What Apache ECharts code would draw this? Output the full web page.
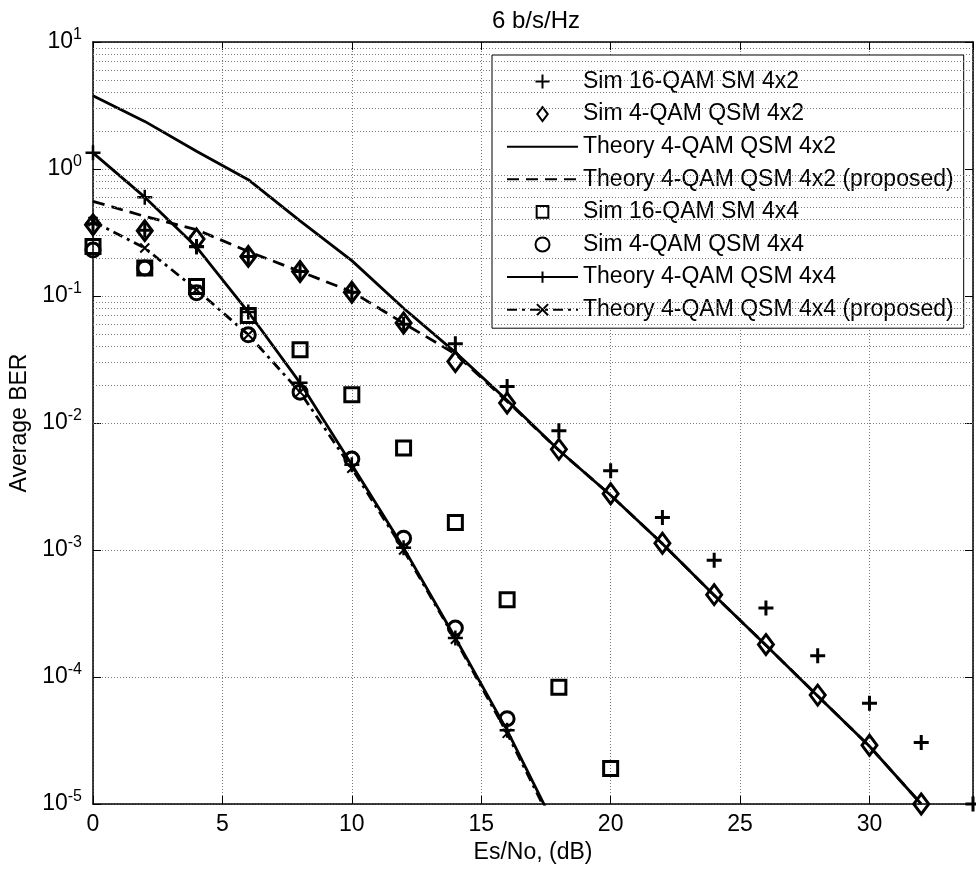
<!DOCTYPE html>
<html>
<head>
<meta charset="utf-8">
<script src="https://cdn.jsdelivr.net/npm/echarts@6/dist/echarts.min.js"></script>
<style>html,body{margin:0;padding:0;background:#fff}#c{width:976px;height:869px}</style>
</head>
<body>
<div id="c"></div>
<script>
// ---- data ----
const snrSim16SM4x2 = [0,2,4,6,8,10,12,14,16,18,20,22,24,26,28,30,32,34];
const berSim16SM4x2 = [0.37,0.33,0.245,0.205,0.156,0.107,0.060,0.042,0.0194,0.0087,0.0042,0.0018,0.00083,0.00035,0.000147,0.000062,0.0000305,0.00001];

const snr4x2 = [0,2,4,6,8,10,12,14,16,18,20,22,24,26,28,30,32];
const berSimQSM4x2 = [0.364,0.327,0.281,0.205,0.156,0.107,0.0613,0.0305,0.01436,0.0062,0.00277,0.00113,0.000445,0.00018,0.000072,0.000029,0.00001];
const berTheoryQSM4x2 = [3.78,2.37,1.38,0.824,0.39,0.19,0.08,0.036,0.0151,0.0061,0.0027,0.00112,0.00044,0.000178,0.000071,0.0000285,0.00001];
const berTheoryQSM4x2Prop = [0.556,0.424,0.333,0.224,0.156,0.108,0.061,0.035,0.0148,0.0061,0.0027,0.00112,0.00044,0.000178,0.000071,0.0000285,0.00001];

const snrSim16SM4x4 = [0,2,4,6,8,10,12,14,16,18,20];
const berSim16SM4x4 = [0.245,0.166,0.119,0.0703,0.0377,0.0167,0.00635,0.00165,0.000406,0.000083,0.000019];

const snrSimQSM4x4 = [0,2,4,6,8,10,12,14,16];
const berSimQSM4x4 = [0.23,0.166,0.106,0.0495,0.0175,0.0052,0.00124,0.000243,0.000047];

const snrTheory4x4 = [0,2,4,6,8,10,12,14,16,18];
const berTheoryQSM4x4 = [1.34,0.60,0.243,0.0748,0.0207,0.0047,0.00104,0.000203,0.000038,0.0000058];
const berTheoryQSM4x4Prop = [0.386,0.239,0.112,0.0495,0.0175,0.0044,0.00100,0.000198,0.000036,0.0000055];

const seriesNames = [
  'Sim 16-QAM SM 4x2',
  'Sim 4-QAM QSM 4x2',
  'Theory 4-QAM QSM 4x2',
  'Theory 4-QAM QSM 4x2 (proposed)',
  'Sim 16-QAM SM 4x4',
  'Sim 4-QAM QSM 4x4',
  'Theory 4-QAM QSM 4x4',
  'Theory 4-QAM QSM 4x4 (proposed)'
];
const titleText = '6 b/s/Hz';
const xName = 'Es/No, (dB)';
const yName = 'Average BER';
const minorMultipliers = [2,3,4,5,6,7,8,9];
const decades = [-5,-4,-3,-2,-1,0];

// ---- build ----
const zip = (xs, ys) => xs.map((x, i) => [x, ys[i]]);
const FONT = 'Liberation Sans, Arial, sans-serif';
const FS = 23;
const PLUS = 'path://M5,0L5,10M0,5L10,5';
const XMARK = 'path://M0,0L10,10M10,0L0,10';
const DIAMOND = 'path://M6,0L12,8L6,16L0,8Z';
const SQUARE = 'path://M-1,-1M11,11M0,0L10,0L10,10L0,10Z';

const minorLines = [];
decades.forEach(e => minorMultipliers.forEach(m => minorLines.push({ yAxis: m * Math.pow(10, e) })));

const gridLineStyle = { color: '#7a7a7a', type: [1, 2], width: 1 };
const hollow = { color: 'rgba(0,0,0,0)', borderColor: '#000', borderWidth: 3, opacity: 1 };
const solidMark = { color: '#000', borderColor: '#000', borderWidth: 2.5, opacity: 1 };

const chart = echarts.init(document.getElementById('c'), null, { renderer: 'canvas' });
chart.setOption({
  backgroundColor: '#fff',
  animation: false,
  textStyle: { fontFamily: FONT, color: '#000' },
  title: {
    text: titleText, left: 531, top: 4, textAlign: 'center',
    textStyle: { fontFamily: FONT, fontSize: 24, fontWeight: 'normal', color: '#000' }
  },
  grid: { left: 93, right: 3, top: 42, bottom: 65, containLabel: false },
  legend: {
    orient: 'vertical', left: 492, top: 55,
    data: [
      { name: seriesNames[0], icon: PLUS },
      { name: seriesNames[1], icon: DIAMOND },
      { name: seriesNames[2], itemStyle: { color: 'rgba(0,0,0,0)', borderWidth: 0 } },
      { name: seriesNames[3], itemStyle: { color: 'rgba(0,0,0,0)', borderWidth: 0 } },
      { name: seriesNames[4], icon: SQUARE },
      { name: seriesNames[5], icon: 'circle' },
      { name: seriesNames[6] },
      { name: seriesNames[7] }
    ],
    padding: [15, 10, 7, 14],
    itemWidth: 71, itemHeight: 14, itemGap: 9.6,
    backgroundColor: '#fff', borderColor: '#000', borderWidth: 1, borderRadius: 0,
    textStyle: { fontFamily: FONT, fontSize: FS, color: '#000', lineHeight: 23 }
  },
  xAxis: [{
    type: 'value', min: 0, max: 34, interval: 5,
    name: xName, nameLocation: 'middle', nameGap: 34,
    nameTextStyle: { fontFamily: FONT, fontSize: FS, color: '#000' },
    axisLine: { show: true, onZero: false, lineStyle: { color: '#000', width: 1.5 } },
    axisTick: { show: true, inside: true, length: 8, lineStyle: { color: '#000' } },
    axisLabel: { margin: 9, fontFamily: FONT, fontSize: FS, color: '#000',
      formatter: v => (v % 5 === 0 ? String(v) : '') },
    splitLine: { show: true, lineStyle: gridLineStyle }
  }, {
    type: 'value', min: 0, max: 34, interval: 5, position: 'top',
    axisLine: { show: true, onZero: false, lineStyle: { color: '#000', width: 1.5 } },
    axisTick: { show: true, inside: true, length: 8, lineStyle: { color: '#000' } },
    axisLabel: { show: false }, splitLine: { show: false }
  }],
  yAxis: [{
    type: 'log', logBase: 10, min: 1e-5, max: 10,
    name: yName, nameLocation: 'middle', nameGap: 62,
    nameTextStyle: { fontFamily: FONT, fontSize: FS, color: '#000' },
    axisLine: { show: true, onZero: false, lineStyle: { color: '#000', width: 1.5 } },
    axisTick: { show: true, inside: true, length: 8, lineStyle: { color: '#000' } },
    axisLabel: {
      margin: 11, fontFamily: FONT, color: '#000',
      formatter: v => '{b|10}{s|' + Math.round(Math.log10(v)) + '}',
      rich: {
        b: { fontFamily: FONT, fontSize: FS, lineHeight: 23, color: '#000' },
        s: { fontFamily: FONT, fontSize: 16, lineHeight: 16, padding: [0, 0, 14, 0], color: '#000' }
      }
    },
    splitLine: { show: true, lineStyle: gridLineStyle }
  }, {
    type: 'log', logBase: 10, min: 1e-5, max: 10, position: 'right',
    axisLine: { show: true, onZero: false, lineStyle: { color: '#000', width: 1.5 } },
    axisTick: { show: true, inside: true, length: 8, lineStyle: { color: '#000' } },
    axisLabel: { show: false }, splitLine: { show: false }
  }],
  series: [
    {
      name: '_minorgrid', type: 'line', data: [], z: 1, silent: true,
      markLine: { silent: true, symbol: 'none', label: { show: false },
        lineStyle: gridLineStyle, emphasis: { disabled: true }, data: minorLines }
    },
    {
      name: seriesNames[0], type: 'scatter', data: zip(snrSim16SM4x2, berSim16SM4x2),
      symbol: PLUS, symbolSize: 15, color: '#000', itemStyle: Object.assign({}, solidMark, { borderWidth: 3 }), z: 5
    },
    {
      name: seriesNames[1], type: 'scatter', data: zip(snr4x2, berSimQSM4x2),
      symbol: 'diamond', symbolSize: [15, 20], color: '#000', itemStyle: hollow, z: 5
    },
    {
      name: seriesNames[2], type: 'line', data: zip(snr4x2, berTheoryQSM4x2),
      symbol: 'none', color: '#000', lineStyle: { color: '#000', width: 2.8 }, z: 4
    },
    {
      name: seriesNames[3], type: 'line', data: zip(snr4x2, berTheoryQSM4x2Prop),
      symbol: 'none', color: '#000', lineStyle: { color: '#000', width: 2.8, type: [12, 7] }, z: 4
    },
    {
      name: seriesNames[4], type: 'scatter', data: zip(snrSim16SM4x4, berSim16SM4x4),
      symbol: 'rect', symbolSize: 14, color: '#000', itemStyle: hollow, z: 5
    },
    {
      name: seriesNames[5], type: 'scatter', data: zip(snrSimQSM4x4, berSimQSM4x4),
      symbol: 'circle', symbolSize: 14, color: '#000', itemStyle: hollow, z: 5
    },
    {
      name: seriesNames[6], type: 'line', data: zip(snrTheory4x4, berTheoryQSM4x4),
      symbol: PLUS, symbolSize: 15, showSymbol: true, color: '#000',
      lineStyle: { color: '#000', width: 2.8 }, itemStyle: solidMark, z: 4
    },
    {
      name: seriesNames[7], type: 'line', data: zip(snrTheory4x4, berTheoryQSM4x4Prop),
      symbol: XMARK, symbolSize: 9, showSymbol: true, color: '#000',
      lineStyle: { color: '#000', width: 2.8, type: [10, 5, 3, 5] },
      itemStyle: Object.assign({}, solidMark, { borderWidth: 2 }), z: 4
    }
  ]
});
</script>
</body>
</html>
